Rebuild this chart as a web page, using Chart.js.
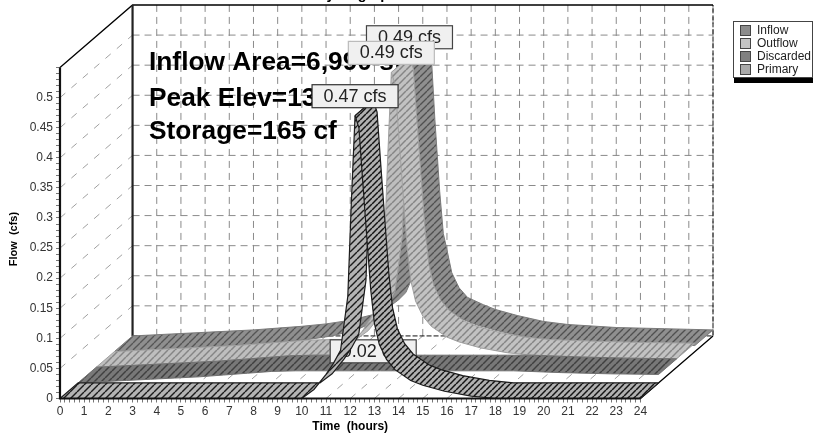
<!DOCTYPE html>
<html>
<head>
<meta charset="utf-8">
<title>Hydrograph</title>
<script src="https://cdn.jsdelivr.net/npm/chart.js@4"></script>
<style>
    html, body { margin: 0; padding: 0; background: #fff; overflow: hidden; }
    #wrap { position: relative; width: 813px; height: 435px; }
    #legend {
        position: absolute; left: 733px; top: 21px; width: 78px; height: 55px;
        border: 1px solid #444; background: #fff; box-shadow: 1px 5px 0 #000;
        font: 12px "Liberation Sans", Arial, sans-serif; color: #222;
    }
    #legend div { position: absolute; left: 23px; line-height: 13px; }
    #legend i { position: absolute; left: -17px; top: 1px; width: 9px; height: 9px; border: 1px solid #444; }
</style>
</head>
<body>
<div id="wrap">
    <canvas id="hydro" width="813" height="435"></canvas>
    <div id="legend"></div>
</div>
<script>
const seriesNames = ['Inflow', 'Outflow', 'Discarded', 'Primary'];
const peakLabels = ['0.49 cfs', '0.49 cfs', '0.02 cfs', '0.47 cfs'];
const infoLines = ['Inflow Area=6,990 sf', "Peak Elev=137.32'", 'Storage=165 cf'];

const hours = [0, 1, 2, 3, 4, 5, 6, 7, 8, 9, 10, 10.5, 11, 11.3, 11.6, 11.9, 12.05, 12.2, 12.36, 12.5, 12.7, 12.85, 13, 13.2, 13.5, 13.85, 14.5, 15, 15.9, 17, 18, 20, 22, 24];
const inflow = [0, .002, .004, .006, .008, .01, .013, .016, .02, .026, .036, .045, .06, .072, .1, .23, .42, .49, .46, .36, .24, .17, .143, .105, .08, .064, .052, .044, .034, .024, .019, .014, .012, .01];
const outflow = [0, .002, .004, .006, .008, .01, .013, .016, .019, .02, .02, .035, .06, .078, .1, .19, .35, .49, .47, .39, .28, .2, .145, .11, .085, .068, .05, .042, .032, .024, .02, .017, .015, .014];
const discarded = [0, .002, .004, .006, .008, .01, .013, .016, .019, .02, .02, .02, .02, .02, .02, .02, .02, .02, .02, .02, .02, .02, .02, .02, .02, .02, .02, .02, .02, .02, .02, .017, .015, .014];
const primary = [0, 0, 0, 0, 0, 0, 0, 0, 0, 0, 0, .015, .04, .058, .08, .17, .33, .47, .45, .37, .26, .18, .125, .09, .065, .048, .03, .022, .012, .004, 0, 0, 0, 0];
const seriesValues = [inflow, outflow, discarded, primary];

const hourTicks = [1, 2, 3, 4, 5, 6, 7, 8, 9, 10, 11, 12, 13, 14, 15, 16, 17, 18, 19, 20, 21, 22, 23];
const flowTicks = [0.05, 0.1, 0.15, 0.2, 0.25, 0.3, 0.35, 0.4, 0.45, 0.5];

const maxHour = 24;
const maxFlow = 0.55;
// how far the back wall is shifted from the front axes, in axis units
const depthHours = 3;
const depthFlow = 0.104;

const swatchColors = ['#8c8c8c', '#c4c4c4', '#808080', '#aaaaaa'];

function hatch(base, line, size, width) {
    const c = document.createElement('canvas');
    c.width = c.height = size;
    const g = c.getContext('2d');
    g.fillStyle = base;
    g.fillRect(0, 0, size, size);
    g.strokeStyle = line;
    g.lineWidth = width;
    [-size, 0, size].forEach(o => {
        g.beginPath();
        g.moveTo(o, size);
        g.lineTo(o + size, 0);
        g.stroke();
    });
    return g.createPattern(c, 'repeat');
}

const riseFills = [
    hatch('#8f8f8f', '#555555', 7, 1.3),
    hatch('#bebebe', '#858585', 7, 1.5),
    hatch('#787878', '#404040', 7, 1.5),
    hatch('#b4b4b4', '#1c1c1c', 7, 1.4)
];
const fallFills = [
    hatch('#8f8f8f', '#505050', 7, 1.3),
    hatch('#c2c2c2', '#858585', 7, 1.5),
    hatch('#787878', '#404040', 7, 1.5),
    hatch('#b0b0b0', '#141414', 6, 1.5)
];
const edgeColors = ['#7a7a7a', '#a0a0a0', '#707070', '#1c1c1c'];
const labelBorders = ['#444444', '#bbbbbb', '#444444', '#333333'];

function at(h, v, depth) {
    return { x: h + depth * depthHours, y: v + depth * depthFlow };
}

// one closed ribbon outline: front edge forward, back edge on the way back
function ribbon(values, depth, from, to) {
    const front = [], back = [];
    for (let i = from; i <= to; i++) {
        front.push(at(hours[i], values[i], depth));
        back.unshift(at(hours[i], values[i], depth + 0.25));
    }
    return front.concat(back, [front[0]]);
}

function lineSet(key, data, color, width, dash) {
    return {
        key, data,
        borderColor: color,
        borderWidth: width,
        borderDash: dash || [],
        pointRadius: 0,
        fill: false,
        tension: 0,
        clip: false
    };
}

function gridPoints() {
    const gap = { x: NaN, y: NaN };
    const pts = [];
    hourTicks.concat([24]).forEach(h => {
        pts.push(at(h, 0, 1), at(h, maxFlow, 1), gap);
    });
    flowTicks.forEach(v => {
        pts.push(at(0, v, 1), at(maxHour, v, 1), gap);
    });
    return pts;
}

function sideGridPoints() {
    const gap = { x: NaN, y: NaN };
    const pts = [];
    hourTicks.forEach(h => pts.push(at(h, 0, 0), at(h, 0, 1), gap));
    flowTicks.forEach(v => pts.push(at(0, v, 0), at(0, v, 1), gap));
    return pts;
}

function buildDatasets() {
    const gap = { x: NaN, y: NaN };
    const painted = [];
    painted.push(lineSet('side', sideGridPoints(), '#a0a0a0', 1, [7, 8]));
    painted.push(lineSet('wall', gridPoints(), '#8a8a8a', 1, [7, 5]));
    painted.push(lineSet('backDash', [at(0, 0, 1), at(maxHour, 0, 1), at(maxHour, maxFlow, 1)], '#111', 1, [5, 2]));
    painted.push(lineSet('frame', [at(0, maxFlow, 0), at(0, maxFlow, 1), at(maxHour, maxFlow, 1), gap, at(maxHour, 0, 0), at(maxHour, 0, 1)], '#000', 1.3));
    painted.push(lineSet('backPost', [at(0, 0, 1), at(0, maxFlow, 1)], '#222', 2.2));

    seriesNames.forEach((name, s) => {
        const values = seriesValues[s];
        const depth = (3 - s) * 0.25;
        const peak = hours.indexOf(12.2);
        const rise = lineSet('ribbon', ribbon(values, depth, 0, peak), edgeColors[s], s === 3 ? 1.2 : 1);
        rise.label = name;
        rise.ribbonFill = riseFills[s];
        const fall = lineSet('ribbon', ribbon(values, depth, peak, hours.length - 1), edgeColors[s], s === 3 ? 1.2 : 1);
        fall.label = name;
        fall.ribbonFill = fallFills[s];
        fall.peakLabel = { text: peakLabels[s], at: at(hours[peak], values[peak], depth), border: labelBorders[s] };
        painted.push(rise, fall);
    });

    painted.push(lineSet('frontAxes', [at(0, maxFlow, 0), at(0, 0, 0), at(maxHour, 0, 0)], '#111', 2.2));
    // chart.js paints the highest order first
    painted.forEach((d, i) => { d.order = painted.length - i; });
    return painted;
}

const hydroPlugin = {
    id: 'hydroPlugin',
    beforeDatasetDraw(chart, args) {
        const ds = chart.data.datasets[args.index];
        if (!ds.ribbonFill) return;
        const ctx = chart.ctx;
        const pts = args.meta.data;
        ctx.save();
        ctx.beginPath();
        pts.forEach((p, i) => { if (i === 0) ctx.moveTo(p.x, p.y); else ctx.lineTo(p.x, p.y); });
        ctx.closePath();
        ctx.fillStyle = ds.ribbonFill;
        ctx.fill();
        ctx.restore();
    },
    afterDatasetDraw(chart, args) {
        const ds = chart.data.datasets[args.index];
        const ctx = chart.ctx;
        if (ds.key === 'wall') {
            ctx.save();
            ctx.fillStyle = '#000';
            ctx.font = 'bold 26.3px "Liberation Sans", Arial, sans-serif';
            ctx.textBaseline = 'alphabetic';
            ctx.fillText(infoLines[0], 149, 70);
            ctx.fillText(infoLines[1], 149, 106);
            ctx.fillText(infoLines[2], 149, 139);
            ctx.restore();
        }
        if (ds.peakLabel) {
            const l = ds.peakLabel;
            const cx = chart.scales.x.getPixelForValue(l.at.x);
            const bottom = chart.scales.y.getPixelForValue(l.at.y) - 8;
            ctx.save();
            ctx.fillStyle = '#f0f0f0';
            ctx.strokeStyle = l.border;
            ctx.lineWidth = 1.2;
            ctx.fillRect(cx - 43, bottom - 23, 86, 23);
            ctx.strokeRect(cx - 43, bottom - 23, 86, 23);
            ctx.fillStyle = '#222';
            ctx.font = '18px "Liberation Sans", Arial, sans-serif';
            ctx.textAlign = 'center';
            ctx.textBaseline = 'middle';
            ctx.fillText(l.text, cx, bottom - 11);
            ctx.restore();
        }
    },
    afterDraw(chart) {
        const ctx = chart.ctx;
        ctx.save();
        ctx.fillStyle = '#000';
        ctx.textAlign = 'center';
        ctx.font = 'bold 14.5px "Liberation Sans", Arial, sans-serif';
        ctx.fillText('Hydrograph', 357, -1);
        ctx.font = 'bold 12px "Liberation Sans", Arial, sans-serif';
        ctx.fillText('Time  (hours)', chart.scales.x.getPixelForValue(12), 430);
        ctx.font = 'bold 11px "Liberation Sans", Arial, sans-serif';
        ctx.translate(17, chart.scales.y.getPixelForValue(0.265));
        ctx.rotate(-Math.PI / 2);
        ctx.fillText('Flow  (cfs)', 0, 0);
        ctx.restore();
    }
};

// keep the plot area where the reference has it, whatever the tick labels want
function pinX(s) {
    s.height = 36.5;
    s.paddingLeft = s.paddingRight = 0;
}
function pinY(s) {
    s.width = 60;
    s.paddingTop = s.paddingBottom = 0;
}

function initHydroChart() {
    const ctx = document.getElementById('hydro').getContext('2d');
    new Chart(ctx, {
        type: 'line',
        data: { datasets: buildDatasets() },
        plugins: [hydroPlugin],
        options: {
            responsive: false,
            animation: false,
            events: [],
            layout: { padding: { top: 5, right: 100, left: 0, bottom: 0 } },
            plugins: { legend: { display: false }, tooltip: { enabled: false }, title: { display: false } },
            scales: {
                x: {
                    type: 'linear',
                    min: 0,
                    max: maxHour + depthHours,
                    afterFit: pinX,
                    border: { display: false },
                    grid: {
                        drawOnChartArea: false,
                        tickLength: 4,
                        tickColor: c => (c.tick.value > maxHour + 0.01 ? 'transparent' : '#777')
                    },
                    ticks: {
                        stepSize: 0.2,
                        autoSkip: false,
                        includeBounds: false,
                        maxRotation: 0,
                        padding: 2,
                        color: '#333',
                        font: { family: '"Liberation Sans", Arial, sans-serif', size: 12 },
                        callback: v => (Math.abs(v - Math.round(v)) < 0.001 && v <= maxHour + 0.01 ? String(Math.round(v)) : '')
                    }
                },
                y: {
                    type: 'linear',
                    min: 0,
                    max: maxFlow + depthFlow,
                    afterFit: pinY,
                    border: { display: false },
                    grid: {
                        drawOnChartArea: false,
                        tickLength: 4,
                        tickColor: c => (c.tick.value > maxFlow + 0.001 ? 'transparent' : '#777')
                    },
                    ticks: {
                        stepSize: 0.01,
                        autoSkip: false,
                        includeBounds: false,
                        padding: 3,
                        color: '#333',
                        font: { family: '"Liberation Sans", Arial, sans-serif', size: 12 },
                        callback: v => {
                            const n = Math.round(v * 100);
                            return n % 5 === 0 && n <= 50 ? String(n / 100) : '';
                        }
                    }
                }
            }
        }
    });
}

function buildLegend() {
    const box = document.getElementById('legend');
    seriesNames.forEach((name, i) => {
        const row = document.createElement('div');
        row.style.top = (2 + i * 13) + 'px';
        row.textContent = name;
        const sw = document.createElement('i');
        sw.style.background = swatchColors[i];
        row.appendChild(sw);
        box.appendChild(row);
    });
}

buildLegend();
initHydroChart();
</script>
</body>
</html>
